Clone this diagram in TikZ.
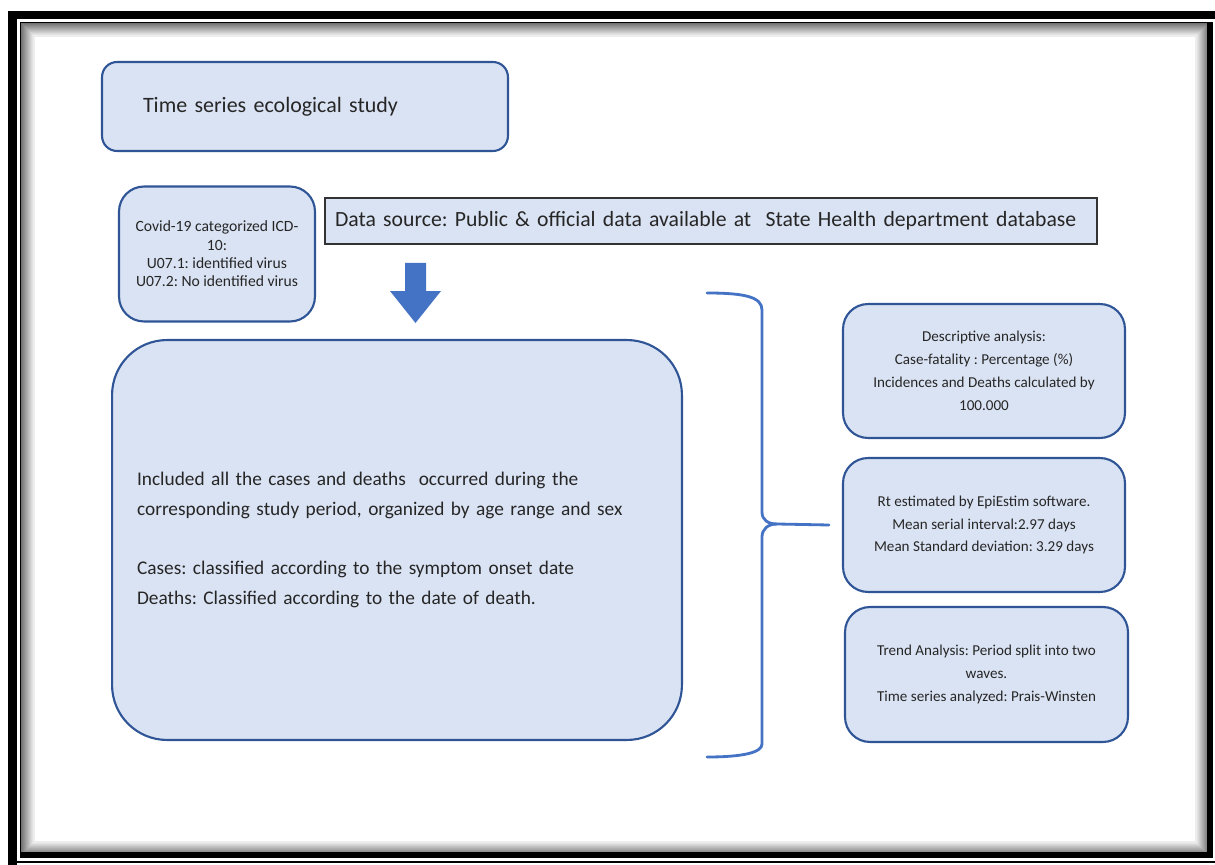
\documentclass[tikz,border=0pt]{standalone}
\usepackage{fontspec}
\setmainfont{Carlito}
\usetikzlibrary{calc}
\frenchspacing

\definecolor{boxfill}{HTML}{DAE3F3}
\definecolor{boxline}{HTML}{2F5597}
\definecolor{accent}{HTML}{4472C4}

\tikzset{
  roundbox/.style={draw=boxline, fill=boxfill, line width=1.2pt, rounded corners=0.5cm, text=black!85},
  smalltext/.style={font=\fontsize{8.6}{13}\selectfont, align=center},
  bigtext/.style={font=\fontsize{12.5}{16}\selectfont},
  brace/.style={draw=accent, line width=1.6pt, line cap=round}
}

\begin{document}
\begin{tikzpicture}[x=0.02cm, y=-0.02cm]
  \useasboundingbox (0,0) rectangle (1215,865);
  \fill[white] (0,0) rectangle (1215,865);

  % page frame
  \foreach \i in {0,...,12}
    \draw[black!\the\numexpr 55-4*\i\relax, line width=0.6pt] (22+\i,24+\i) rectangle (1208-\i,854-\i);
  \draw[line width=5pt] (12.5,865) -- (12.5,15) -- (1215,15);
  \draw[line width=0.8pt] (20.5,858) -- (20.5,22.5) -- (1209,22.5);
  \draw[line width=3pt] (21,855) -- (1210,855) -- (1210,22);
  \draw[line width=0.8pt] (8,862) -- (1215,862);

  \node[roundbox, rounded corners=0.3cm, minimum width=8.12cm, minimum height=1.78cm,
        inner xsep=0.82cm, text width=6.48cm, align=left, bigtext] (study) at (305,106.5)
        {Time series ecological study};

  \node[roundbox, minimum width=3.92cm, minimum height=2.7cm, inner sep=0pt,
        smalltext, font=\fontsize{8.9}{10.4}\selectfont] (icd) at (217,254)
        {Covid-19 categorized ICD-\\10:\\U07.1: identified virus\\U07.2: No identified virus};

  \node[draw=black!80, fill=boxfill, text=black!85, line width=1.4pt, minimum width=15.44cm, minimum height=0.92cm,
        inner xsep=0.2cm, text width=15.04cm, align=left, font=\fontsize{12.35}{16}\selectfont] (source) at (711,221)
        {Data source: Public \& official data available at~ State Health department database};

  \fill[accent] (405,263) -- (426,263) -- (426,291) -- (441,291) -- (415.5,323)
                -- (390,291) -- (405,291) -- cycle;

  \node[roundbox, rounded corners=1.1cm, minimum width=11.4cm, minimum height=8cm,
        inner xsep=0.5cm, text width=10.4cm, align=left, font=\fontsize{11}{17}\selectfont] (included) at (397,540)
        {Included all the cases and deaths~ occurred during the\\corresponding study period, organized by age range and sex\\[17pt]
         Cases: classified according to the symptom onset date\\Deaths: Classified according to the date of death.};

  \node[roundbox, minimum width=5.64cm, minimum height=2.68cm, smalltext] (desc) at (984,371)
        {Descriptive analysis:\\Case-fatality : Percentage (\%)\\Incidences and Deaths calculated by\\100.000};
  \node[roundbox, minimum width=5.64cm, minimum height=2.68cm, smalltext] (rt) at (984,525)
        {Rt estimated by EpiEstim software.\\ Mean serial interval:2.97 days\\Mean Standard deviation: 3.29 days};
  \node[roundbox, minimum width=5.66cm, minimum height=2.7cm, smalltext] (trend) at (986.5,674.5)
        {Trend Analysis: Period split into two\\waves.\\Time series analyzed: Prais-Winsten};

  % brace towards the analyses
  \coordinate (tip) at ($(rt.west)+(-13,0)$);
  \draw[brace] (707,293) .. controls (745,293) and (762,297) .. (762,310) -- (762,512)
               .. controls (762,520) and (768,524) .. (777,524) -- (tip);
  \draw[brace] (777,524) .. controls (768,524) and (762,529) .. (762,537) -- (762,744)
               .. controls (762,752) and (745,757) .. (707,757);
\end{tikzpicture}
\end{document}
